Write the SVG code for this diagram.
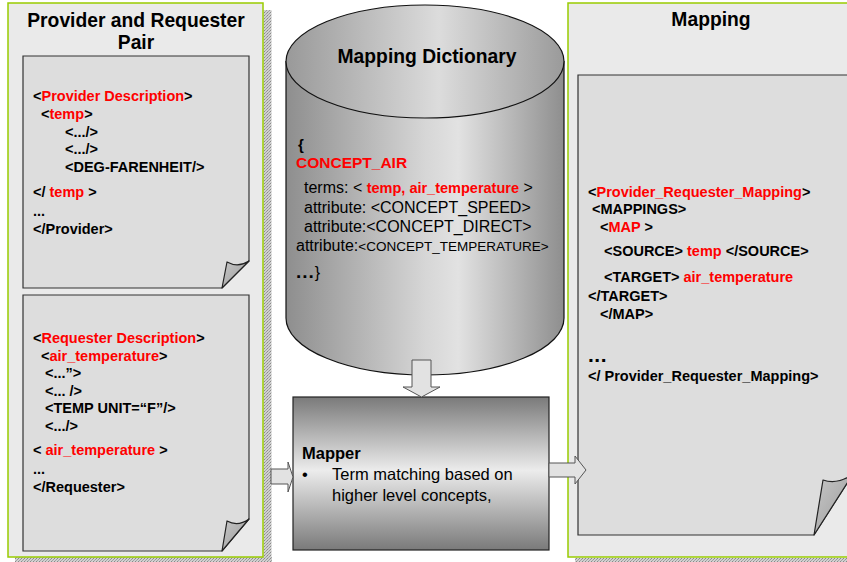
<svg xmlns="http://www.w3.org/2000/svg" width="847" height="562" viewBox="0 0 847 562">
<defs>
<style>
text{font-family:"Liberation Sans",Arial,sans-serif;fill:#000}
.t{font-size:19.3px;font-weight:bold}
.c{font-size:14.5px;font-weight:bold}
.r{fill:#ff0000}
.d{font-size:16px}
.m{font-size:16.5px}
.panel{fill:#eaeaea;stroke:#99cc00;stroke-width:1.5}
.doc{fill:#dddddd;stroke:#333;stroke-width:1.2}
.curl{fill:url(#curlg);stroke:#222;stroke-width:1.2;stroke-linejoin:round}
.arrow{fill:#e2e2e2;stroke:#555;stroke-width:1}
</style>
<pattern id="shade" width="3" height="3" patternUnits="userSpaceOnUse">
<rect width="3" height="3" fill="#d0d0d0"/>
<rect x="0" y="0" width="1" height="1" fill="#8a8a8a"/>
<rect x="2" y="1" width="1" height="1" fill="#9a9a9a"/>
<rect x="1" y="2" width="1" height="1" fill="#a5a5a5"/>
</pattern>
<linearGradient id="curlg" x1="0" y1="0" x2="1" y2="1">
<stop offset="0" stop-color="#c8c8c8"/>
<stop offset="1" stop-color="#999"/>
</linearGradient>
<linearGradient id="cyl" x1="0" y1="0" x2="1" y2="0">
<stop offset="0" stop-color="#8e8e8e"/>
<stop offset="0.5" stop-color="#d6d6d6"/>
<stop offset="0.62" stop-color="#e2e2e2"/>
<stop offset="1" stop-color="#8e8e8e"/>
</linearGradient>
<linearGradient id="cyltop" x1="0" y1="0" x2="1" y2="0">
<stop offset="0" stop-color="#999"/>
<stop offset="0.55" stop-color="#dcdcdc"/>
<stop offset="1" stop-color="#9a9a9a"/>
</linearGradient>
<linearGradient id="mapg" x1="0" y1="0" x2="0" y2="1">
<stop offset="0" stop-color="#7a7a7a"/>
<stop offset="0.48" stop-color="#ececec"/>
<stop offset="1" stop-color="#7a7a7a"/>
</linearGradient>
</defs>

<g id="provider-requester-pair">
<rect x="263.5" y="10" width="8" height="552" fill="url(#shade)"/>
<rect x="15" y="557" width="257" height="5" fill="url(#shade)"/>
<rect class="panel" x="8" y="3" width="255" height="554"/>
<text class="t" x="136" y="27" text-anchor="middle">Provider and Requester</text>
<text class="t" x="136" y="49" text-anchor="middle">Pair</text>
</g>

<g id="provider-doc">
<path class="doc" d="M23,56 H249 V261 L222,288 H23 Z"/>
<path class="curl" d="M249,261 Q238,268 227,262 L222,288 Z"/>
<text class="c" x="33" y="101">&lt;<tspan class="r">Provider Description</tspan>&gt;</text>
<text class="c" x="41" y="119">&lt;<tspan class="r">temp</tspan>&gt;</text>
<text class="c" x="65" y="137">&lt;.../&gt;</text>
<text class="c" x="65" y="154">&lt;.../&gt;</text>
<text class="c" x="65" y="172">&lt;DEG-FARENHEIT/&gt;</text>
<text class="c" x="33" y="197">&lt;/ <tspan class="r">temp</tspan> &gt;</text>
<text class="c" x="33" y="216">...</text>
<text class="c" x="33" y="234">&lt;/Provider&gt;</text>
</g>

<g id="requester-doc">
<path class="doc" d="M23,295 H249 V519 L222,551 H23 Z"/>
<path class="curl" d="M249,519 Q238,527 227,521 L222,551 Z"/>
<text class="c" x="33" y="343">&lt;<tspan class="r">Requester Description</tspan>&gt;</text>
<text class="c" x="41" y="361">&lt;<tspan class="r">air_temperature</tspan>&gt;</text>
<text class="c" x="45" y="378">&lt;...”&gt;</text>
<text class="c" x="45" y="396">&lt;... /&gt;</text>
<text class="c" x="45" y="413">&lt;TEMP UNIT=“F”/&gt;</text>
<text class="c" x="45" y="431">&lt;.../&gt;</text>
<text class="c" x="33" y="455">&lt; <tspan class="r">air_temperature</tspan> &gt;</text>
<text class="c" x="33" y="474">...</text>
<text class="c" x="33" y="492">&lt;/Requester&gt;</text>
</g>

<g id="mapping-dictionary">
<path d="M286,61.5 V318 A139,57 0 0 0 564,318 V61.5 Z" fill="url(#cyl)" stroke="#111" stroke-width="1.2"/>
<ellipse cx="425" cy="61.5" rx="139" ry="56.5" fill="url(#cyltop)" stroke="#111" stroke-width="1.2"/>
<text class="t" x="427" y="63" text-anchor="middle">Mapping Dictionary</text>
<text x="298" y="150" style="font-size:15px;font-weight:bold">{</text>
<text x="296" y="168" class="r" style="font-size:15.5px;font-weight:bold">CONCEPT_AIR</text>
<text class="d" x="304" y="193">terms: &lt; <tspan class="r" style="font-weight:bold;font-size:14.5px">temp, air_temperature</tspan> &gt;</text>
<text class="d" x="304" y="213">attribute: &lt;CONCEPT_SPEED&gt;</text>
<text class="d" x="304" y="232">attribute:&lt;CONCEPT_DIRECT&gt;</text>
<text class="d" x="296" y="251">attribute:<tspan style="font-size:13.5px">&lt;CONCEPT_TEMPERATURE&gt;</tspan></text>
<text x="296" y="278" style="font-size:16px"><tspan style="font-weight:bold;font-size:19px;letter-spacing:1px">...</tspan>}</text>
</g>

<g id="mapper">
<rect x="293" y="397" width="256" height="153" fill="url(#mapg)" stroke="#222" stroke-width="1.2"/>
<text class="m" x="302" y="459" style="font-weight:bold">Mapper</text>
<text class="m" x="302" y="480">•</text>
<text class="m" x="332" y="480">Term matching based on</text>
<text class="m" x="332" y="501">higher level concepts,</text>
</g>

<g id="mapping">
<rect x="575" y="558" width="280" height="4" fill="url(#shade)"/>
<rect class="panel" x="568" y="3" width="290" height="554"/>
<text class="t" x="711" y="26" text-anchor="middle">Mapping</text>
</g>

<g id="mapping-doc">
<path class="doc" d="M578,75 H853 V474 L814,535 H578 Z"/>
<path class="curl" d="M853,474 Q838,485 823,480 L814,535 Z"/>
<text class="c" x="588" y="197">&lt;<tspan class="r">Provider_Requester_Mapping</tspan>&gt;</text>
<text class="c" x="592" y="214">&lt;MAPPINGS&gt;</text>
<text class="c" x="600" y="232">&lt;<tspan class="r">MAP</tspan> &gt;</text>
<text class="c" x="604" y="256">&lt;SOURCE&gt; <tspan class="r">temp</tspan> &lt;/SOURCE&gt;</text>
<text class="c" x="604" y="282">&lt;TARGET&gt; <tspan class="r">air_temperature</tspan></text>
<text class="c" x="588" y="301">&lt;/TARGET&gt;</text>
<text class="c" x="600" y="319">&lt;/MAP&gt;</text>
<text x="588" y="362" style="font-size:21px;font-weight:bold;letter-spacing:0.5px">...</text>
<text class="c" x="588" y="381">&lt;/ Provider_Requester_Mapping&gt;</text>
</g>

<g id="connectors">
<path class="arrow" d="M412,360 H431 V387 H440 L421.5,397 L403,387 H412 Z"/>
<path class="arrow" d="M271,469 H288 V462 L293,477 L288,492 V484 H271 Z"/>
<path class="arrow" d="M549,463 H575 V456 L586,470 L575,484 V477 H549 Z"/>
</g>
</svg>
